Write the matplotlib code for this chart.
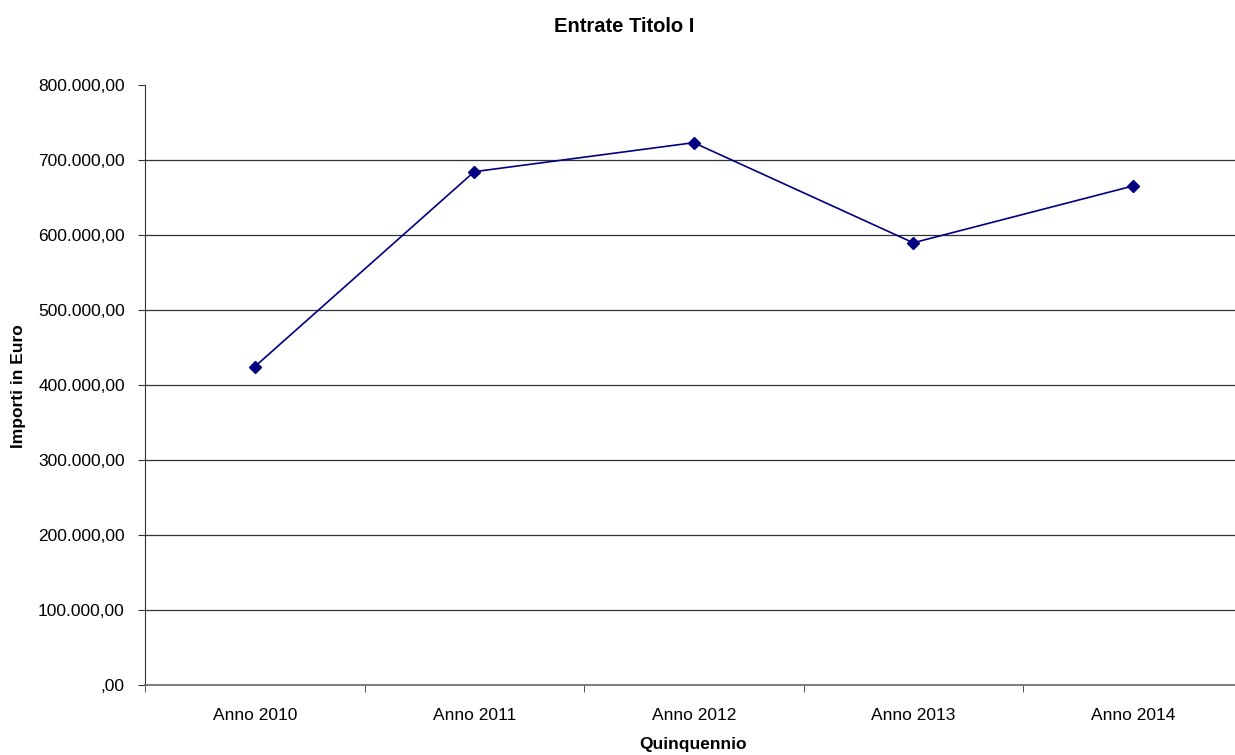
import matplotlib
matplotlib.use("Agg")
import matplotlib.pyplot as plt
from matplotlib.ticker import FuncFormatter, FixedLocator

plt.rcParams["font.family"] = ["Liberation Sans", "DejaVu Sans"]

anni = ["Anno 2010", "Anno 2011", "Anno 2012", "Anno 2013", "Anno 2014"]
importi = [424800, 684800, 723500, 590000, 665700]


def fmt_euro(v, pos):
    s = f"{v:,.2f}".replace(",", "X").replace(".", ",").replace("X", ".")
    if s.startswith("0,"):
        s = s[1:]
    return s


fig = plt.figure(figsize=(12.35, 7.55), dpi=100)
W, H = 1235, 755
ax = fig.add_axes([145 / W, 1 - 685.3 / H, (1242.5 - 145) / W, (685.3 - 85.3) / H])

x = list(range(len(anni)))
ax.plot(x, importi, color="#000080", linewidth=1.2, marker="D", markersize=6.3,
        markerfacecolor="#000080", markeredgecolor="#000080", clip_on=False, zorder=3)

ax.set_xlim(-0.5, len(anni) - 0.5)
ax.set_ylim(0, 800000)
ax.set_yticks(range(0, 800001, 100000))
ax.yaxis.set_major_formatter(FuncFormatter(fmt_euro))
# griglia senza la linea superiore
for v in range(100000, 800000, 100000):
    ax.axhline(v, color="#333333", linewidth=0.9, zorder=1)

ax.set_xticks(x)
ax.set_xticklabels(anni)
ax.xaxis.set_minor_locator(FixedLocator([i - 0.5 for i in range(len(anni) + 1)]))
ax.tick_params(axis="x", which="major", length=0, pad=16, labelsize=12.5)
ax.tick_params(axis="x", which="minor", length=5, direction="out", color="#333333")
ax.tick_params(axis="y", length=5, direction="out", labelsize=12.5, pad=9.5, color="#333333")

for side in ["top", "right"]:
    ax.spines[side].set_visible(False)
ax.spines["left"].set_color("#333333")
ax.spines["bottom"].set_color("#666666")
ax.spines["bottom"].set_linewidth(1.2)

fig.text(624 / W, 1 - 26 / H, "Entrate Titolo I", ha="center", va="center",
         fontsize=14.5, fontweight="bold")
fig.text(693 / W, 1 - 744 / H, "Quinquennio", ha="center", va="center",
         fontsize=12.5, fontweight="bold")
fig.text(19 / W, 1 - 386 / H, "Importi in Euro", ha="center", va="center",
         rotation=90, fontsize=12.5, fontweight="bold")

fig.savefig("out.png", dpi=100)
